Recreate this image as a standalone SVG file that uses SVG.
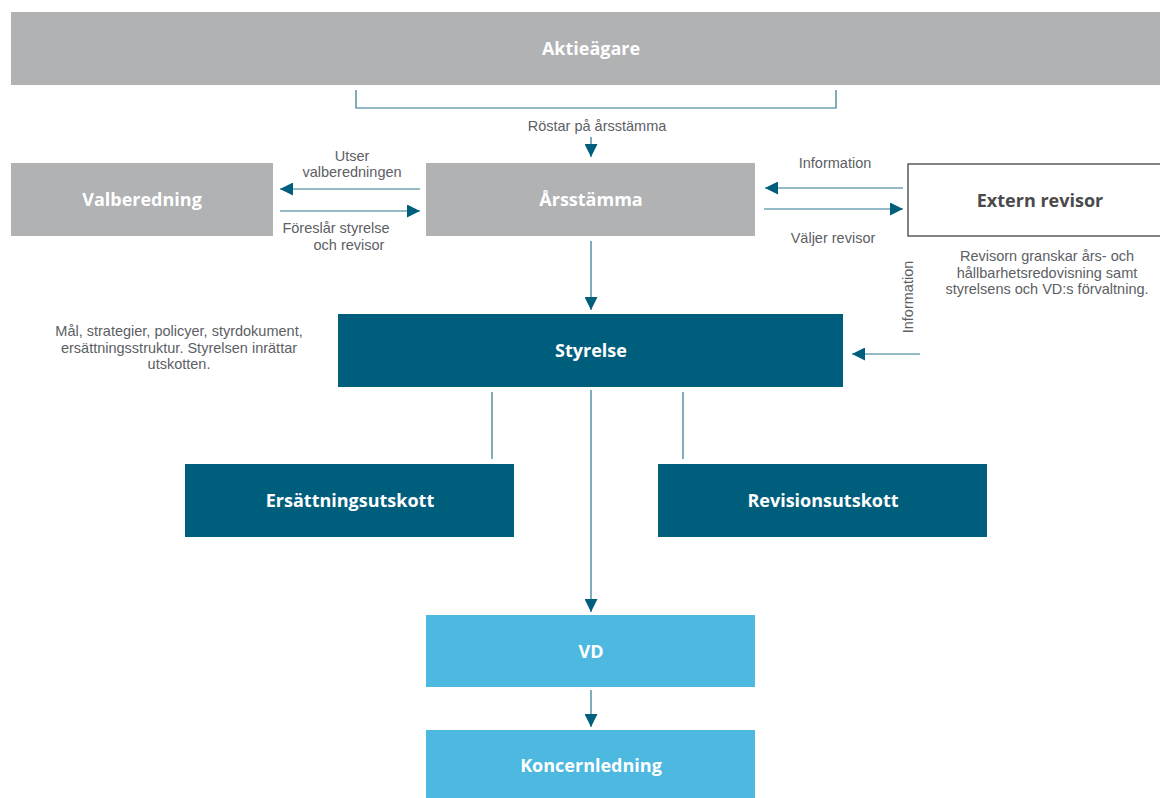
<svg xmlns="http://www.w3.org/2000/svg" width="1160" height="798" viewBox="0 0 1160 798">
<defs>
<style>
.gray{fill:#b0b2b4}
.dark{fill:#005e7d}
.light{fill:#4db8e0}
.nl{font-family:"Open Sans",Lato,"Liberation Sans",sans-serif;font-weight:700;font-size:18px;fill:#ffffff;text-anchor:middle;dominant-baseline:central}
.lbl{font-family:"Liberation Sans",Arial,sans-serif;font-size:14.5px;fill:#5c6064;text-anchor:middle}
.ln{stroke:#2a7792;stroke-width:1.2;fill:none}
</style>
<marker id="ah" viewBox="0 0 10 10" refX="10" refY="5" markerWidth="13" markerHeight="13" markerUnits="userSpaceOnUse" orient="auto">
<path d="M0,0 L10,5 L0,10 z" fill="#005e7d"/>
</marker>
</defs>
<rect width="1160" height="798" fill="#ffffff"/>

<g id="connectors">
<path class="ln" d="M356,90 V108 H836 V90"/>
<line class="ln" x1="591" y1="137" x2="591" y2="157" marker-end="url(#ah)"/>
<line class="ln" x1="420" y1="189" x2="280" y2="189" marker-end="url(#ah)"/>
<line class="ln" x1="280" y1="211" x2="420" y2="211" marker-end="url(#ah)"/>
<line class="ln" x1="903" y1="188" x2="765" y2="188" marker-end="url(#ah)"/>
<line class="ln" x1="764" y1="209" x2="903" y2="209" marker-end="url(#ah)"/>
<line class="ln" x1="591" y1="241" x2="591" y2="310" marker-end="url(#ah)"/>
<line class="ln" x1="920" y1="354" x2="852" y2="354" marker-end="url(#ah)"/>
<line class="ln" x1="492" y1="392" x2="492" y2="459"/>
<line class="ln" x1="683" y1="392" x2="683" y2="459"/>
<line class="ln" x1="591" y1="390" x2="591" y2="612" marker-end="url(#ah)"/>
<line class="ln" x1="591" y1="690" x2="591" y2="727" marker-end="url(#ah)"/>
</g>

<g id="labels">
<text class="lbl" x="597" y="131">Röstar på årsstämma</text>
<text class="lbl" x="352" y="160.5">Utser</text>
<text class="lbl" x="352" y="177">valberedningen</text>
<text class="lbl" x="336" y="233">Föreslår styrelse</text>
<text class="lbl" x="349" y="249.5">och revisor</text>
<text class="lbl" x="835" y="168">Information</text>
<text class="lbl" x="833" y="243">Väljer revisor</text>
<text class="lbl" transform="translate(913,297) rotate(-90)">Information</text>
<text class="lbl" x="1047" y="261">Revisorn granskar års- och</text>
<text class="lbl" x="1047" y="277.5">hållbarhetsredovisning samt</text>
<text class="lbl" x="1047" y="294">styrelsens och VD:s förvaltning.</text>
<text class="lbl" x="179" y="336">Mål, strategier, policyer, styrdokument,</text>
<text class="lbl" x="179" y="352.5">ersättningsstruktur. Styrelsen inrättar</text>
<text class="lbl" x="179" y="369">utskotten.</text>
</g>

<g id="aktieagare"><rect class="gray" x="11" y="12" width="1149" height="73"/><text class="nl" x="591" y="48">Aktieägare</text></g>
<g id="valberedning"><rect class="gray" x="11" y="163" width="262" height="73"/><text class="nl" x="142" y="199">Valberedning</text></g>
<g id="arsstamma"><rect class="gray" x="426" y="163" width="329" height="73"/><text class="nl" x="591" y="199">Årsstämma</text></g>
<g id="extern-revisor"><rect x="908" y="164" width="260" height="72" fill="#ffffff" stroke="#5a5a5a" stroke-width="1.5"/><text class="nl" x="1040" y="200" style="fill:#4a4a4a">Extern revisor</text></g>
<g id="styrelse"><rect class="dark" x="338" y="314" width="505" height="73"/><text class="nl" x="591" y="350">Styrelse</text></g>
<g id="ersattningsutskott"><rect class="dark" x="185" y="464" width="329" height="73"/><text class="nl" x="350" y="500">Ersättningsutskott</text></g>
<g id="revisionsutskott"><rect class="dark" x="658" y="464" width="329" height="73"/><text class="nl" x="823" y="500">Revisionsutskott</text></g>
<g id="vd"><rect class="light" x="426" y="615" width="329" height="72"/><text class="nl" x="591" y="651">VD</text></g>
<g id="koncernledning"><rect class="light" x="426" y="730" width="329" height="68"/><text class="nl" x="591" y="765">Koncernledning</text></g>
</svg>
